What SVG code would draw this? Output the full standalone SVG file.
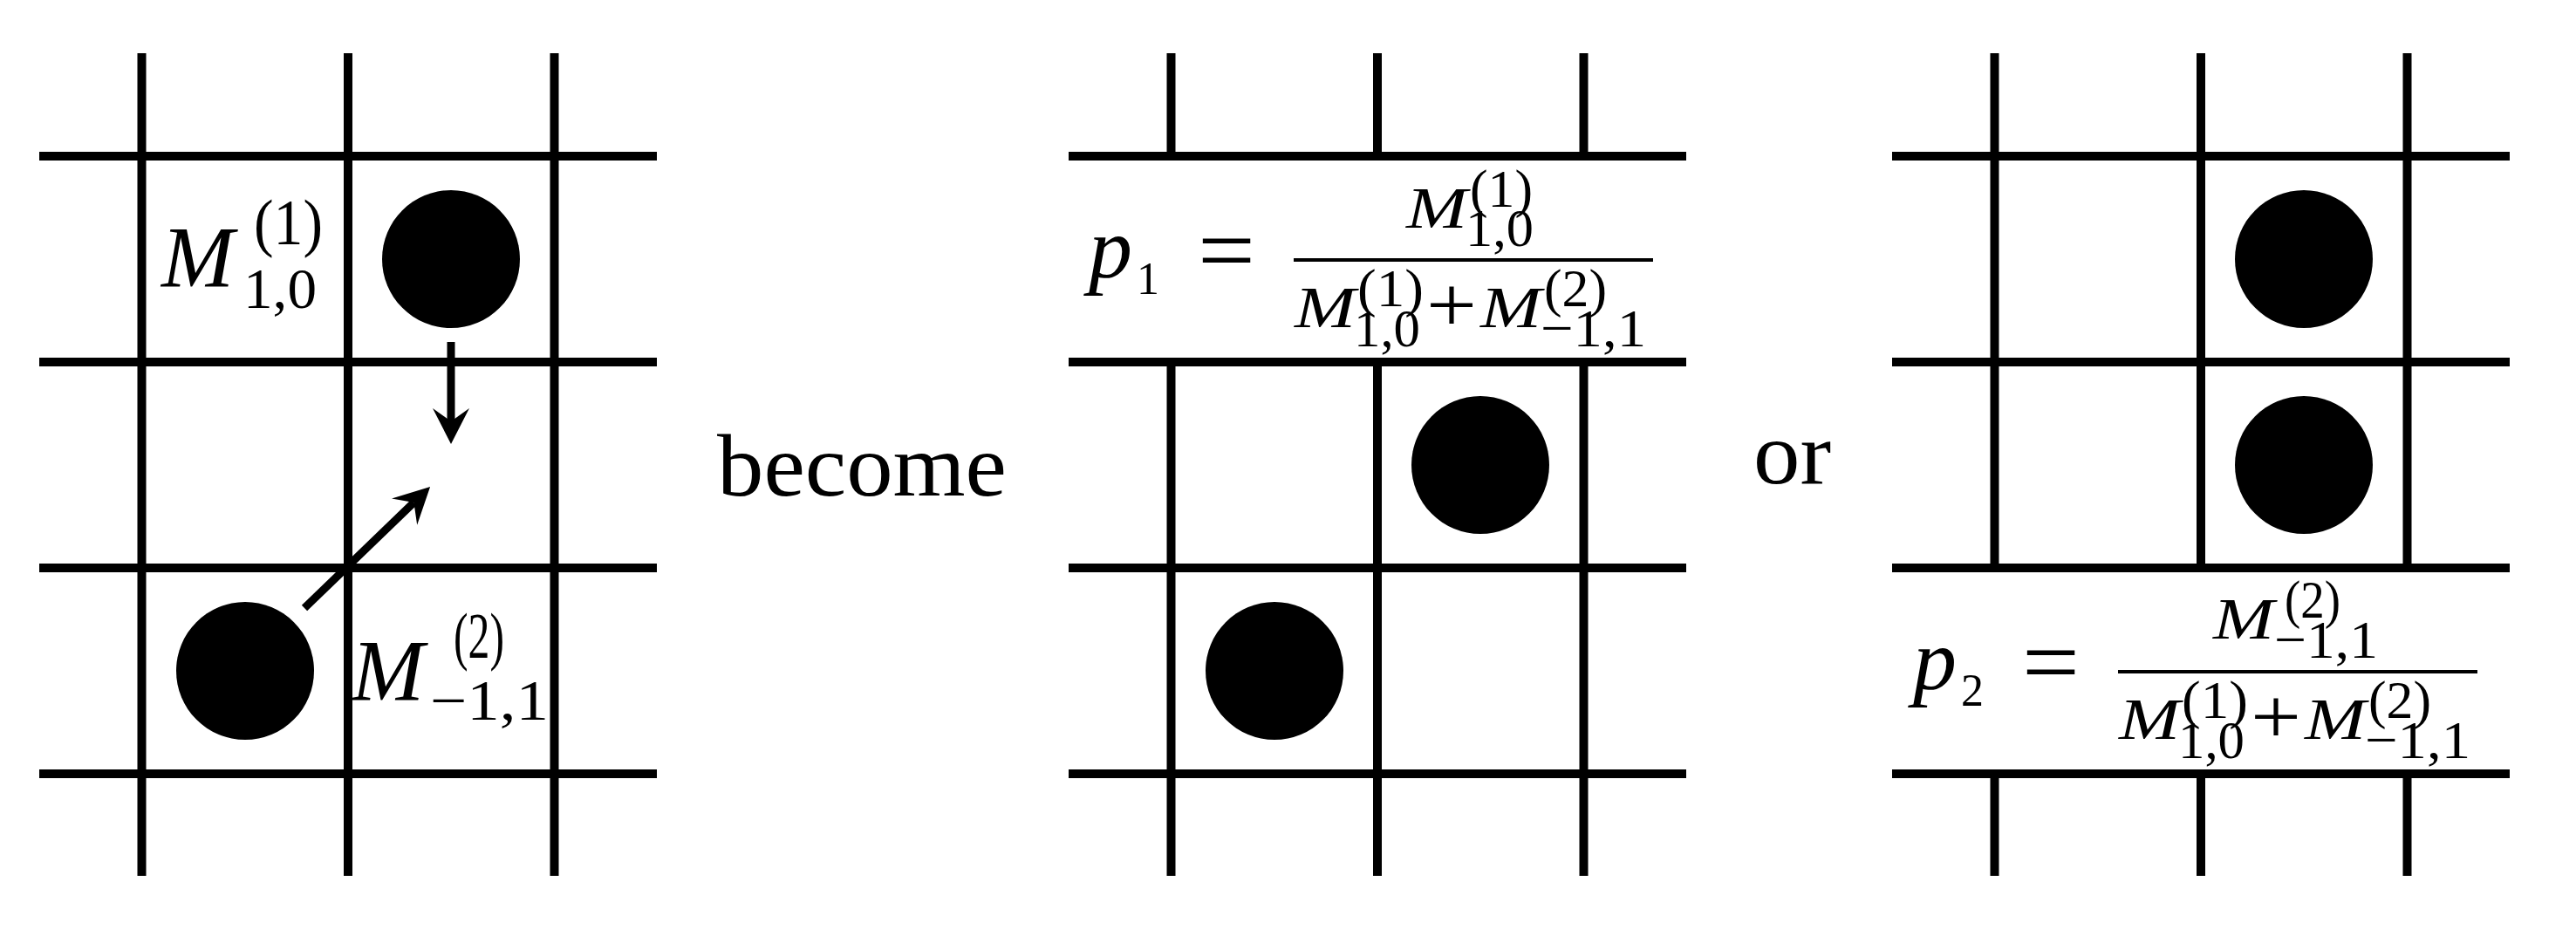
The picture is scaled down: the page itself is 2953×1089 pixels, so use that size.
<svg xmlns="http://www.w3.org/2000/svg" width="2953" height="1089" viewBox="0 0 2953 1089">
<style>
.g{stroke:#000;stroke-width:10;fill:none;stroke-linecap:butt}
.tok{fill:#000}
.t{font-family:"Liberation Serif","Times New Roman",serif;fill:#000}
.i{font-style:italic}
.w{font-family:"Liberation Serif","Times New Roman",serif;fill:#000}
.bar{stroke:#000;stroke-width:4}
.arr{stroke:#000;stroke-width:9;fill:none}
</style>
<defs>
<marker id="ah" markerUnits="userSpaceOnUse" viewBox="-44 -24 48 48" markerWidth="48" markerHeight="48" refX="-26" refY="0" orient="auto">
<path d="M0,0 L-41,-21 L-26,0 L-41,21 Z" fill="#000"/>
</marker>
</defs>
<rect width="2953" height="1089" fill="#fff"/>

<g id="panel1-grid" class="g">
<path d="M162.5,61V1004M399,61V1004M635.5,61V1004"/>
<path d="M45,179H753M45,415H753M45,651H753M45,887H753"/>
</g>
<g id="panel2-grid" class="g">
<path d="M1342.5,61V179M1579,61V179M1815.5,61V179M1342.5,415V1004M1579,415V1004M1815.5,415V1004"/>
<path d="M1225,179H1933M1225,415H1933M1225,651H1933M1225,887H1933"/>
</g>
<g id="panel3-grid" class="g">
<path d="M2286.5,61V651M2523,61V651M2759.5,61V651M2286.5,887V1004M2523,887V1004M2759.5,887V1004"/>
<path d="M2169,179H2877M2169,415H2877M2169,651H2877M2169,887H2877"/>
</g>

<g id="p1-token-a"><circle class="tok" cx="517" cy="297" r="79"/></g>
<g id="p1-token-b"><circle class="tok" cx="281" cy="769" r="79"/></g>
<g id="p2-token-a"><circle class="tok" cx="1697" cy="533" r="79"/></g>
<g id="p2-token-b"><circle class="tok" cx="1461" cy="769" r="79"/></g>
<g id="p3-token-a"><circle class="tok" cx="2641" cy="297" r="79"/></g>
<g id="p3-token-b"><circle class="tok" cx="2641" cy="533" r="79"/></g>

<g id="label-m1">
<text class="t" font-size="66"><tspan class="i" x="185" y="328" font-size="100">M</tspan><tspan x="291" y="280" font-size="74" textLength="79" lengthAdjust="spacingAndGlyphs">(1)</tspan><tspan x="279" y="353" textLength="84" lengthAdjust="spacingAndGlyphs">1,0</tspan></text>
</g>
<g id="label-m2">
<text class="t" font-size="66"><tspan class="i" x="403" y="802" font-size="100">M</tspan><tspan x="520" y="754" font-size="74" textLength="58" lengthAdjust="spacingAndGlyphs">(2)</tspan><tspan x="493" y="825" textLength="136" lengthAdjust="spacingAndGlyphs">−1,1</tspan></text>
</g>

<g id="connectors">
<path class="arr" d="M517,392V483" marker-end="url(#ah)"/>
<path class="arr" d="M349,697L474.4,576.1" marker-end="url(#ah)"/>
</g>

<g id="word-become"><text class="w" x="822" y="568" font-size="102" textLength="332" lengthAdjust="spacingAndGlyphs">become</text></g>
<g id="word-or"><text class="w" x="2010" y="554" font-size="102" textLength="89" lengthAdjust="spacingAndGlyphs">or</text></g>

<g id="eq-p1">
<text class="t"><tspan class="i" x="1248" y="318" font-size="100">p</tspan><tspan x="1303" y="337" font-size="52">1</tspan><tspan x="1373" y="324" font-size="110" textLength="66" lengthAdjust="spacingAndGlyphs">=</tspan></text>
<line class="bar" x1="1483" y1="298" x2="1895" y2="298"/>
<text class="t" font-size="62"><tspan class="i" x="1612" y="261" font-size="68" textLength="70" lengthAdjust="spacingAndGlyphs">M</tspan><tspan x="1685" y="237" textLength="72" lengthAdjust="spacingAndGlyphs">(1)</tspan><tspan x="1680" y="282" textLength="78" lengthAdjust="spacingAndGlyphs">1,0</tspan></text>
<text class="t" font-size="62"><tspan class="i" x="1484" y="375" font-size="68" textLength="70" lengthAdjust="spacingAndGlyphs">M</tspan><tspan x="1556" y="351" textLength="76" lengthAdjust="spacingAndGlyphs">(1)</tspan><tspan x="1552" y="397" textLength="76" lengthAdjust="spacingAndGlyphs">1,0</tspan><tspan x="1635" y="380" font-size="90" textLength="58" lengthAdjust="spacingAndGlyphs">+</tspan><tspan class="i" x="1697" y="375" font-size="68" textLength="70" lengthAdjust="spacingAndGlyphs">M</tspan><tspan x="1770" y="351" textLength="72" lengthAdjust="spacingAndGlyphs">(2)</tspan><tspan x="1766" y="397" textLength="121" lengthAdjust="spacingAndGlyphs">−1,1</tspan></text>
</g>

<g id="eq-p2">
<text class="t"><tspan class="i" x="2193" y="790" font-size="100">p</tspan><tspan x="2248" y="809" font-size="52">2</tspan><tspan x="2318" y="796" font-size="110" textLength="66" lengthAdjust="spacingAndGlyphs">=</tspan></text>
<line class="bar" x1="2428" y1="770" x2="2840" y2="770"/>
<text class="t" font-size="62"><tspan class="i" x="2537" y="732" font-size="68" textLength="70" lengthAdjust="spacingAndGlyphs">M</tspan><tspan x="2619" y="708" textLength="64" lengthAdjust="spacingAndGlyphs">(2)</tspan><tspan x="2607" y="754" textLength="119" lengthAdjust="spacingAndGlyphs">−1,1</tspan></text>
<text class="t" font-size="62"><tspan class="i" x="2429" y="847" font-size="68" textLength="70" lengthAdjust="spacingAndGlyphs">M</tspan><tspan x="2501" y="823" textLength="76" lengthAdjust="spacingAndGlyphs">(1)</tspan><tspan x="2497" y="869" textLength="76" lengthAdjust="spacingAndGlyphs">1,0</tspan><tspan x="2580" y="852" font-size="90" textLength="58" lengthAdjust="spacingAndGlyphs">+</tspan><tspan class="i" x="2642" y="847" font-size="68" textLength="70" lengthAdjust="spacingAndGlyphs">M</tspan><tspan x="2715" y="823" textLength="72" lengthAdjust="spacingAndGlyphs">(2)</tspan><tspan x="2711" y="869" textLength="121" lengthAdjust="spacingAndGlyphs">−1,1</tspan></text>
</g>
</svg>
